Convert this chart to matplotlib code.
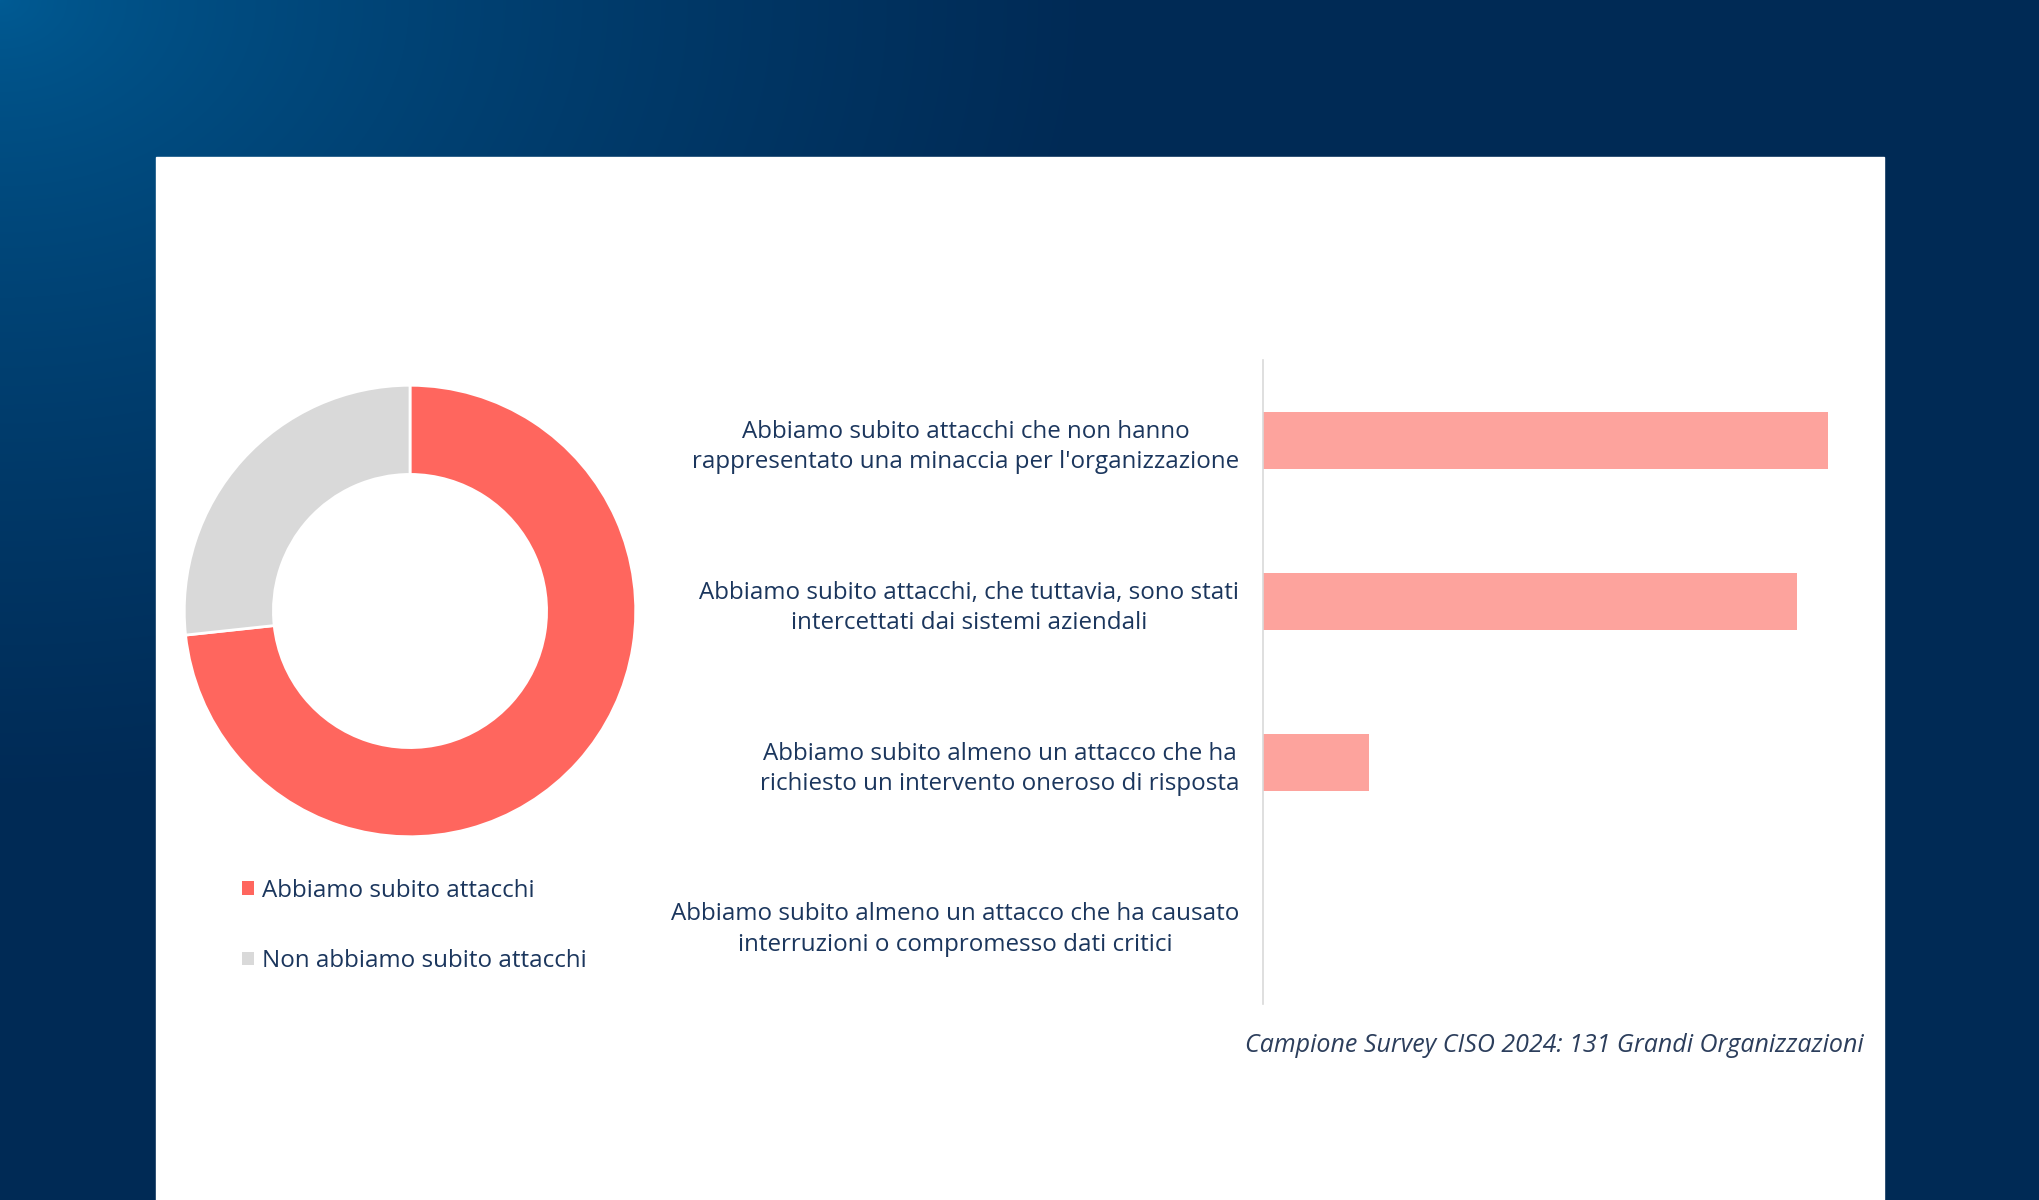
import numpy as np
import matplotlib
matplotlib.use('Agg')
import matplotlib.pyplot as plt
from matplotlib.patches import Rectangle, Patch
from matplotlib.colors import to_rgb

# dati
pie_labels = ['Abbiamo subito attacchi', 'Non abbiamo subito attacchi']
pie_values = [73.3, 26.7]
pie_colors = ['#ff665e', '#d9d9d9']

bar_labels = [
    "Abbiamo subito attacchi che non hanno\nrappresentato una minaccia per l'organizzazione",
    "Abbiamo subito attacchi, che tuttavia, sono stati\nintercettati dai sistemi aziendali",
    "Abbiamo subito almeno un attacco che ha\nrichiesto un intervento oneroso di risposta",
    "Abbiamo subito almeno un attacco che ha causato\ninterruzioni o compromesso dati critici",
]
bar_values = [46.0, 43.5, 8.6, 0.0]

note = 'Campione Survey CISO 2024: 131 Grandi Organizzazioni'

W, H = 2040, 1200
navy = '#1b365d'
plt.rcParams['font.family'] = ['Open Sans', 'DejaVu Sans']

fig = plt.figure(figsize=(W / 100, H / 100), dpi=100)

# sfondo sfumato
bg = fig.add_axes([0, 0, 1, 1])
yy, xx = np.mgrid[0:H, 0:W]
d = np.sqrt((xx / 1100.0) ** 2 + (yy / 800.0) ** 2)
t = np.clip(d, 0, 1) ** 0.7
c0 = np.array(to_rgb('#005c95'))
c1 = np.array(to_rgb('#002a55'))
img = c0[None, None, :] * (1 - t[..., None]) + c1[None, None, :] * t[..., None]
bg.imshow(img, extent=[0, W, H, 0], aspect='auto')
bg.add_patch(Rectangle((156, 157), 1728, 1100, color='white'))
bg.set_xlim(0, W)
bg.set_ylim(H, 0)
bg.axis('off')

# ciambella
cx, cy, r = 410, 611, 228
ax1 = fig.add_axes([(cx - r) / W, 1 - (cy + r) / H, 2 * r / W, 2 * r / H])
ax1.pie(pie_values, colors=pie_colors, startangle=90, counterclock=False,
        radius=1, wedgeprops=dict(width=0.395, edgecolor='white', linewidth=2))
ax1.set_xlim(-1.01, 1.01)
ax1.set_ylim(-1.01, 1.01)
ax1.set_aspect('equal')
ax1.axis('off')

handles = [Patch(facecolor=c, edgecolor='none') for c in pie_colors]
leg = fig.legend(handles, pie_labels, loc='upper left',
                 bbox_to_anchor=(220 / W, 1 - 857 / H), frameon=False,
                 handlelength=0.5, handleheight=0.5, handletextpad=0.35,
                 labelspacing=1.92, fontsize=17.4)
for tx in leg.get_texts():
    tx.set_color(navy)

# barre
ax2 = fig.add_axes([1263 / W, 1 - 1004 / H, 621 / W, 644 / H])
y = np.arange(len(bar_values))
ax2.barh(y, bar_values, height=0.35, color='#fda39d')
ax2.set_ylim(3.5, -0.5)
ax2.set_xlim(0, 50.6)
ax2.set_yticks(y)
ax2.set_yticklabels(bar_labels, fontsize=17.4, color=navy, multialignment='center',
                    linespacing=1.38)
ax2.tick_params(axis='y', length=0, pad=17)
ax2.set_xticks([])
for s in ['top', 'right', 'bottom']:
    ax2.spines[s].set_visible(False)
ax2.spines['left'].set_color('#d9d9d9')
ax2.spines['left'].set_linewidth(1.2)
ax2.set_facecolor('none')

fig.text(1864 / W, 1 - 1046 / H, note, ha='right', va='center',
         fontsize=18, style='italic', color='#2c3e5c')

fig.savefig('out.png', dpi=100)
